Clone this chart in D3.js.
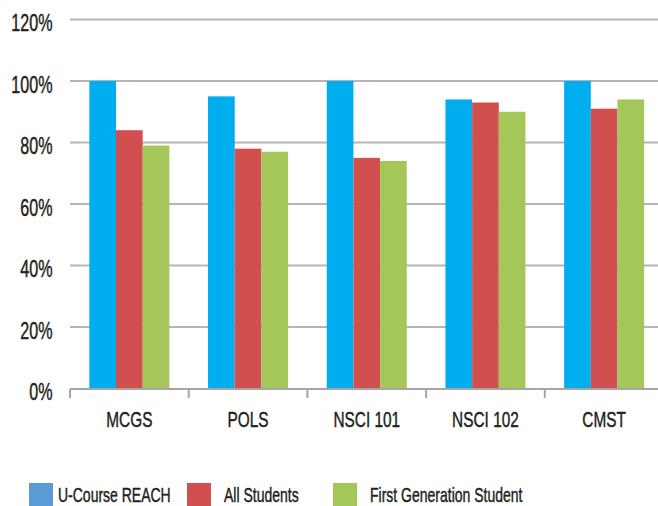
<!DOCTYPE html>
<html>
<head>
<meta charset="utf-8">
<script src="https://cdn.jsdelivr.net/npm/d3@7/dist/d3.min.js"></script>
<style>
	body { margin: 0; background: #fff; }
	svg { display: block; font-family: 'Liberation Sans', Arial, sans-serif; }
	.grid line { stroke: #b5b5b5; stroke-width: 2; }
	.axis--x line { stroke: #a6a6a6; stroke-width: 2; }
	text { fill: #231f20; stroke: #231f20; stroke-width: .45; }
</style>
</head>
<body>
<svg width="658" height="506"></svg>
<script>
const courses = ['MCGS', 'POLS', 'NSCI 101', 'NSCI 102', 'CMST']
const seriesNames = ['U-Course REACH', 'All Students', 'First Generation Student']
const reach = [100, 95, 100, 94, 100]
const allStudents = [84, 78, 75, 93, 91]
const firstGen = [79, 77, 74, 90, 94]
const yTicks = [0, 20, 40, 60, 80, 100, 120]

const barColors = ['#00aeef', '#d24f50', '#a5c75a']
const legendColors = ['#5a9bd5', '#d24f50', '#a5c75a']

const values = [reach, allStudents, firstGen]
const data = courses.map((c, i) => ({ course: c, vals: values.map(s => s[i]) }))

const svg = d3.select('svg')
const mLeft = 70, mTop = 19.5, mBottom = 388.5
const squeeze = .7 // the original face is a condensed one

const x = d3.scaleBand()
	.domain(courses)
	.range([mLeft, mLeft + 5 * 118.7])
const inner = d3.scaleBand()
	.domain(d3.range(seriesNames.length))
	.range([x.bandwidth() * .163, x.bandwidth() * .837])
const y = d3.scaleLinear()
	.domain([0, 120])
	.range([mBottom, mTop])

const place = (px, py) => `translate(${[px, py]}) scale(${squeeze},1)`

// gridlines
svg.append('g')
	.attr('class', 'grid')
	.selectAll('line')
	.data(yTicks.filter(d => d > 0))
	.join('line')
	.attr('x1', mLeft)
	.attr('x2', 658)
	.attr('y1', d => y(d))
	.attr('y2', d => y(d))

// y labels
svg.append('g')
	.selectAll('text')
	.data(yTicks)
	.join('text')
	.attr('transform', d => place(52.5, y(d) + 11.5))
	.attr('text-anchor', 'end')
	.style('font-size', '23px')
	.text(d => d + '%')

// bars
const groups = svg.append('g')
	.selectAll('g')
	.data(data)
	.join('g')
	.attr('transform', d => `translate(${x(d.course)},0)`)
groups.selectAll('rect')
	.data(d => d.vals)
	.join('rect')
	.attr('x', (d, i) => inner(i))
	.attr('width', inner.bandwidth())
	.attr('y', d => y(d))
	.attr('height', d => y(0) - y(d))
	.attr('fill', (d, i) => barColors[i])

// x axis
const xAxis = svg.append('g')
	.attr('class', 'axis--x')
	.attr('transform', `translate(0,${mBottom + .5})`)
xAxis.append('line')
	.attr('x1', mLeft)
	.attr('x2', 658)
xAxis.selectAll('line.tick')
	.data(courses)
	.join('line')
	.attr('class', 'tick')
	.attr('x1', d => x(d))
	.attr('x2', d => x(d))
	.attr('y1', 0)
	.attr('y2', 9)
xAxis.selectAll('text')
	.data(courses)
	.join('text')
	.attr('transform', d => place(x(d) + x.bandwidth() / 2, 37.7))
	.attr('text-anchor', 'middle')
	.style('font-size', '22px')
	.text(d => d)

// legend
const swatchX = [29, 187, 333]
const labelX = [58, 224, 370]
const legend = svg.append('g')
	.selectAll('g')
	.data(seriesNames)
	.join('g')
legend.append('rect')
	.attr('x', (d, i) => swatchX[i])
	.attr('y', 483)
	.attr('width', 24)
	.attr('height', 24)
	.attr('fill', (d, i) => legendColors[i])
legend.append('text')
	.attr('transform', (d, i) => place(labelX[i], 502))
	.style('font-size', '20px')
	.text(d => d)
</script>
</body>
</html>
